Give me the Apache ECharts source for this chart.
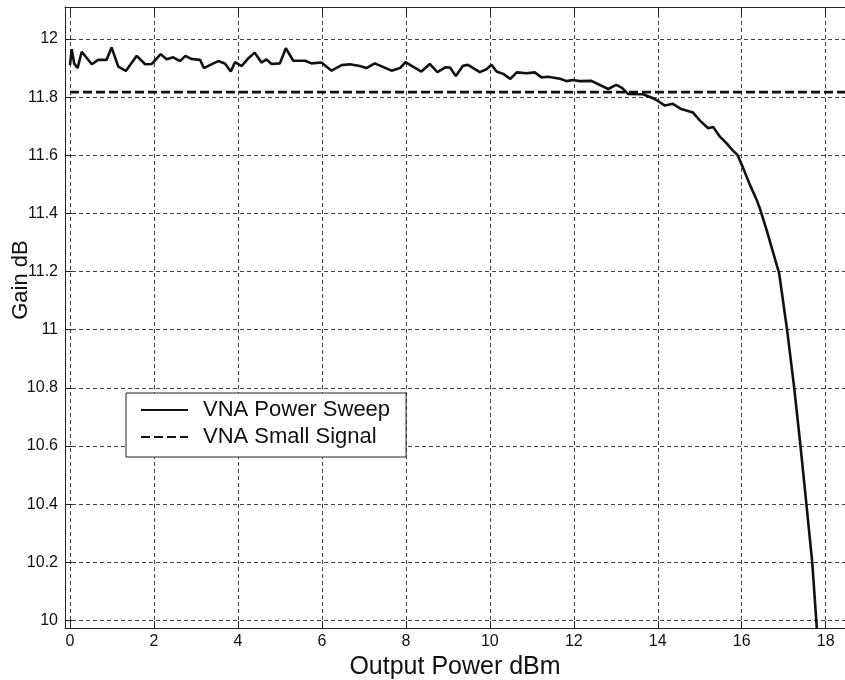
<!DOCTYPE html>
<html>
<head>
<meta charset="utf-8">
<script src="https://cdn.jsdelivr.net/npm/echarts@6/dist/echarts.min.js"></script>
<style>html,body{margin:0;padding:0;background:#fff;}#c{width:845px;height:680px;}</style>
</head>
<body>
<div id="c"></div>
<script>
// Data
const sweepX = [0.00,0.04,0.10,0.18,0.28,0.52,0.67,0.87,0.99,1.15,1.33,1.59,1.79,1.95,2.16,2.30,2.46,2.62,2.75,2.90,3.10,3.19,3.33,3.53,3.69,3.83,3.93,4.09,4.25,4.40,4.56,4.68,4.80,5.00,5.14,5.32,5.60,5.75,5.99,6.23,6.47,6.67,6.90,7.06,7.26,7.66,7.86,7.99,8.37,8.57,8.75,8.95,9.05,9.19,9.36,9.48,9.76,9.92,10.04,10.16,10.32,10.49,10.64,10.87,11.07,11.23,11.39,11.67,11.83,11.98,12.14,12.42,12.82,13.01,13.15,13.29,13.65,13.89,13.97,14.17,14.36,14.56,14.84,15.00,15.20,15.32,15.48,15.64,15.79,15.90,16.02,16.19,16.36,16.43,16.59,16.75,16.89,16.98,17.08,17.25,17.40,17.54,17.68,17.79];
const sweepY = [11.910,11.965,11.916,11.900,11.956,11.913,11.928,11.928,11.971,11.905,11.890,11.942,11.913,11.914,11.948,11.930,11.937,11.924,11.942,11.931,11.928,11.900,11.910,11.924,11.916,11.888,11.920,11.907,11.934,11.953,11.919,11.930,11.914,11.916,11.968,11.925,11.925,11.916,11.919,11.891,11.910,11.913,11.907,11.900,11.916,11.891,11.900,11.920,11.888,11.914,11.886,11.903,11.902,11.873,11.908,11.911,11.886,11.896,11.911,11.888,11.880,11.863,11.885,11.882,11.885,11.868,11.870,11.863,11.855,11.859,11.855,11.856,11.828,11.842,11.832,11.811,11.810,11.796,11.790,11.771,11.777,11.759,11.747,11.720,11.693,11.697,11.664,11.641,11.616,11.601,11.561,11.500,11.445,11.418,11.344,11.264,11.195,11.103,11.000,10.800,10.600,10.400,10.200,9.970];
const smallX = [0, 18.46];
const smallY = [11.817, 11.817];
const seriesNames = ['VNA Power Sweep', 'VNA Small Signal'];
const xTitle = 'Output Power dBm';
const yTitle = 'Gain dB';

const chart = echarts.init(document.getElementById('c'), null, {renderer: 'canvas'});
const font = 'Liberation Sans, Arial, sans-serif';
const gridLine = {show: true, lineStyle: {color: '#444', width: 1, type: [4, 3]}};
const labelStyle = {color: '#111', fontFamily: font, fontSize: 16};
chart.setOption({
  animation: false,
  backgroundColor: '#fff',
  grid: {left: 65, top: 7, right: 0, bottom: 52, containLabel: false, outerBoundsMode: 'none'},
  graphic: [{
    type: 'text', x: 21, y: 280, rotation: Math.PI / 2, z: 10,
    style: {text: yTitle, fontSize: 22, fontFamily: font, fill: '#111', align: 'center', verticalAlign: 'middle'}
  }],
  legend: {
    orient: 'vertical', left: 126, top: 393,
    backgroundColor: '#fff', borderColor: '#222', borderWidth: 1,
    padding: [6, 16, 9, 14], itemGap: 5, itemWidth: 47, itemHeight: 14,
    itemStyle: {opacity: 0, borderWidth: 0},
    textStyle: {fontSize: 22, color: '#111', fontFamily: font, padding: [0, 0, 0, 10]},
    data: seriesNames
  },
  xAxis: [{
    type: 'value', min: -0.119, max: 18.46, minInterval: 2, maxInterval: 2, splitNumber: 9,
    name: xTitle, nameLocation: 'middle', nameGap: 24,
    nameTextStyle: {fontSize: 25, color: '#111', fontFamily: font},
    axisLine: {show: true, onZero: false, lineStyle: {color: '#222', width: 1}},
    axisTick: {show: true, inside: true, length: 7, lineStyle: {color: '#222'}},
    axisLabel: Object.assign({margin: 6, showMinLabel: false, showMaxLabel: false}, labelStyle),
    splitLine: gridLine
  }, {
    type: 'value', position: 'top', min: -0.119, max: 18.46, minInterval: 2, maxInterval: 2, splitNumber: 9,
    axisLine: {show: true, onZero: false, lineStyle: {color: '#222', width: 1}},
    axisTick: {show: true, inside: true, length: 7, lineStyle: {color: '#222'}},
    axisLabel: {show: false}, splitLine: {show: false}
  }],
  yAxis: [{
    type: 'value', min: 9.974, max: 12.11, minInterval: 0.2, maxInterval: 0.2, splitNumber: 10,
    axisLine: {show: true, onZero: false, lineStyle: {color: '#222', width: 1}},
    axisTick: {show: true, inside: true, length: 7, lineStyle: {color: '#222'}},
    axisLabel: Object.assign({margin: 7, showMinLabel: false, showMaxLabel: false,
      formatter: v => String(Math.round(v * 10) / 10)}, labelStyle),
    splitLine: gridLine
  }],
  series: [{
    name: seriesNames[0], type: 'line', symbol: 'none', smooth: false, clip: true,
    data: sweepX.map((x, i) => [x, sweepY[i]]),
    lineStyle: {color: '#111', width: 2.6}, itemStyle: {color: '#111'}
  }, {
    name: seriesNames[1], type: 'line', symbol: 'none', clip: true,
    data: smallX.map((x, i) => [x, smallY[i]]),
    lineStyle: {color: '#111', width: 2.8, type: [9, 4]}, itemStyle: {color: '#111'}
  }]
});
</script>
</body>
</html>
